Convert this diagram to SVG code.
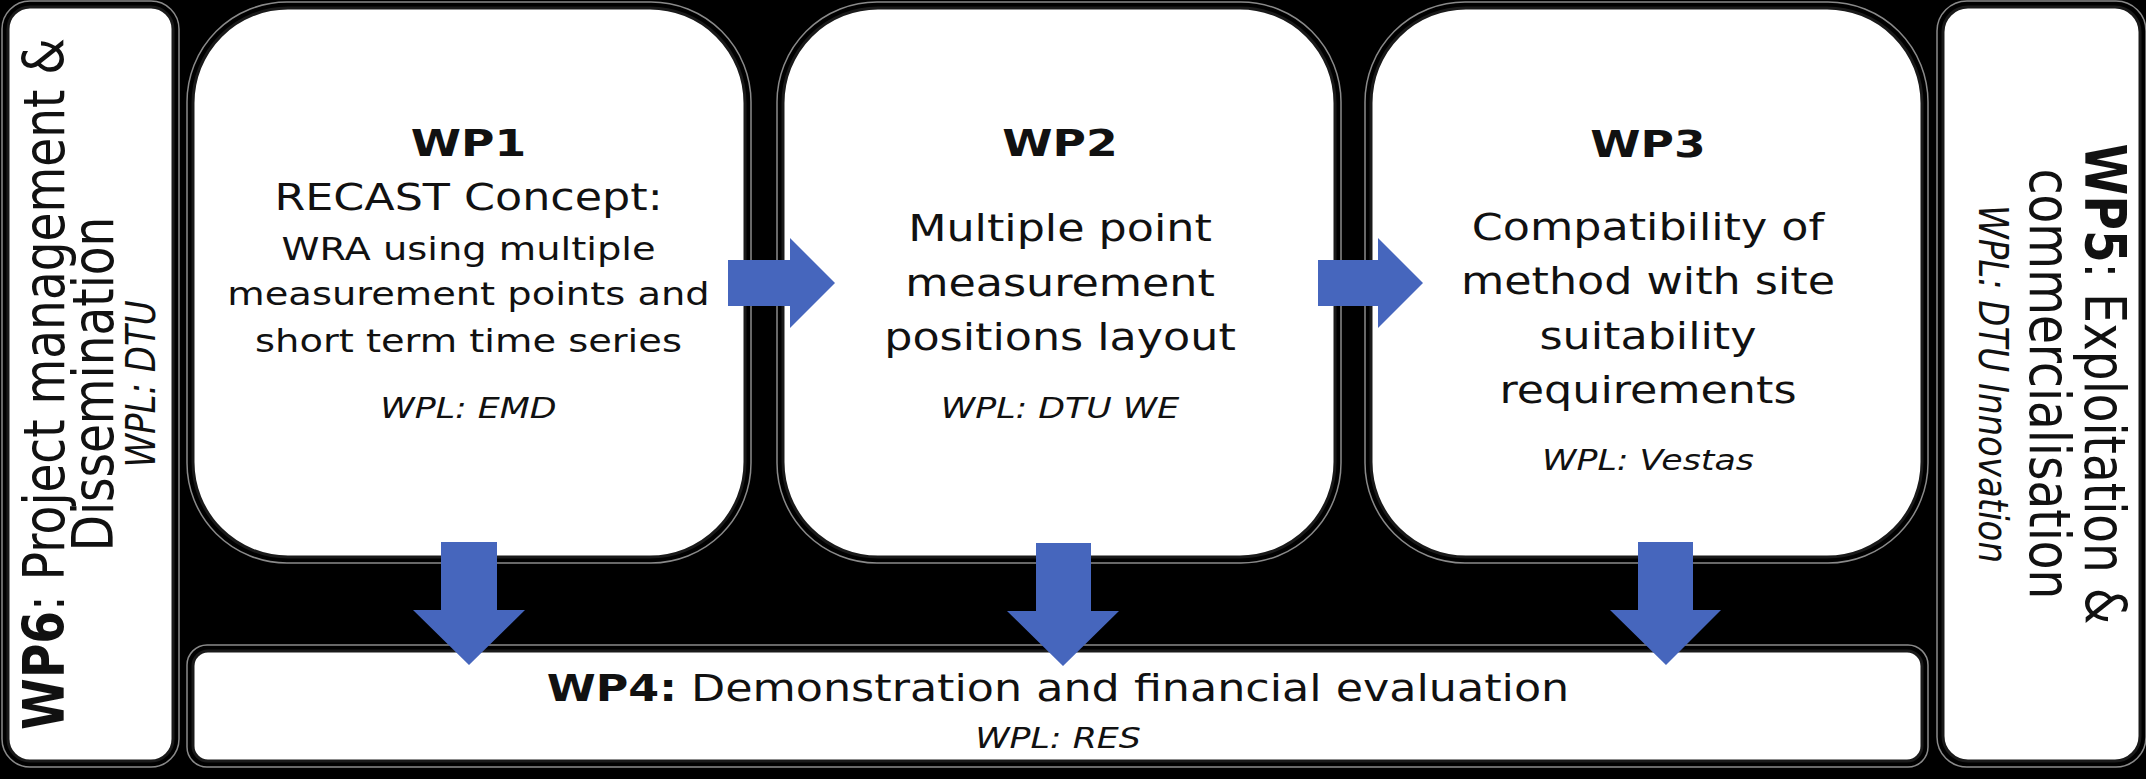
<svg xmlns="http://www.w3.org/2000/svg" width="2146" height="779" viewBox="0 0 2146 779">
<defs>
<style>
.box{fill:#ffffff;stroke:#1a1a1a;stroke-width:3}
.halo{fill:none;stroke:#8a8a8a;stroke-width:1.5}
.arrow{fill:#4666BD}
text{font-family:"DejaVu Sans","Verdana",sans-serif;fill:#111111;text-anchor:middle}
.t{font-weight:bold;font-size:38px}
.b{font-size:37px}
.s{font-size:32px}
.w{font-style:italic;font-size:29px}
.r{font-size:47px}
.rw{font-style:italic;font-size:34px}
</style>
</defs>
<rect x="0" y="0" width="2146" height="779" fill="#000000"/>

<g id="wp6">
<rect class="halo" x="2" y="1" width="177" height="766" rx="28"/>
<rect class="box" x="8" y="7" width="165" height="754" rx="22"/>
<g transform="translate(64,384) scale(1.2,1) rotate(-90)">
<text class="r" x="0" y="0"><tspan font-weight="bold">WP6</tspan>:  Project management &amp;</text>
<text class="r" x="0" y="40.8">Dissemination</text>
<text class="rw" x="0" y="75.8">WPL: DTU</text>
</g>
</g>

<g id="wp1">
<rect class="halo" x="187" y="2" width="564" height="561" rx="100"/>
<rect class="box" x="193" y="8" width="552" height="549" rx="95"/>
<g transform="translate(468.5,0) scale(1.2,1)">
<text class="t" x="0" y="156">WP1</text>
<text class="b" x="0" y="210">RECAST Concept:</text>
<text class="s" x="0" y="260">WRA using multiple</text>
<text class="s" x="0" y="305">measurement points and</text>
<text class="s" x="0" y="352">short term time series</text>
<text class="w" x="0" y="418">WPL: EMD</text>
</g>
</g>

<g id="wp2">
<rect class="halo" x="777" y="2" width="564" height="561" rx="100"/>
<rect class="box" x="783" y="8" width="552" height="549" rx="95"/>
<g transform="translate(1060,0) scale(1.2,1)">
<text class="t" x="0" y="156">WP2</text>
<text class="b" x="0" y="241">Multiple point</text>
<text class="b" x="0" y="296">measurement</text>
<text class="b" x="0" y="350">positions layout</text>
<text class="w" x="0" y="418">WPL: DTU WE</text>
</g>
</g>

<g id="wp3">
<rect class="halo" x="1365" y="2" width="563" height="561" rx="100"/>
<rect class="box" x="1371" y="8" width="551" height="549" rx="95"/>
<g transform="translate(1648,0) scale(1.2,1)">
<text class="t" x="0" y="157">WP3</text>
<text class="b" x="0" y="240">Compatibility of</text>
<text class="b" x="0" y="294">method with site</text>
<text class="b" x="0" y="349">suitability</text>
<text class="b" x="0" y="403">requirements</text>
<text class="w" x="0" y="470">WPL: Vestas</text>
</g>
</g>

<g id="wp4">
<rect class="halo" x="187" y="645" width="1741" height="122" rx="20"/>
<rect class="box" x="193" y="651" width="1729" height="110" rx="15"/>
<g transform="translate(1058,0) scale(1.2,1)">
<text class="b" x="0" y="701" font-size="38"><tspan font-weight="bold">WP4:</tspan> Demonstration and financial evaluation</text>
<text class="w" x="0" y="748" font-size="30">WPL: RES</text>
</g>
</g>

<g id="wp5">
<rect class="halo" x="1937" y="1" width="209" height="766" rx="30"/>
<rect class="box" x="1943" y="7" width="197" height="754" rx="25"/>
<g transform="translate(2085,384) scale(1.2,1) rotate(90)">
<text class="r" x="0" y="0"><tspan font-weight="bold">WP5</tspan>: Exploitation &amp;</text>
<text class="r" x="0" y="45.8">commercialisation</text>
<text class="rw" x="0" y="88.3">WPL: DTU Innovation</text>
</g>
</g>

<g id="connectors">
<polygon class="arrow" points="728,260 790,260 790,238 835,283 790,328 790,306 728,306"/>
<polygon class="arrow" points="1318,260 1378,260 1378,238 1423,283 1378,328 1378,306 1318,306"/>
<polygon class="arrow" points="441,542 497,542 497,610 525,610 469,665 413,610 441,610"/>
<polygon class="arrow" points="1036,543 1091,543 1091,611 1119,611 1063,666 1007,611 1036,611"/>
<polygon class="arrow" points="1638,542 1693,542 1693,610 1721,610 1666,665 1610,610 1638,610"/>
</g>
</svg>
